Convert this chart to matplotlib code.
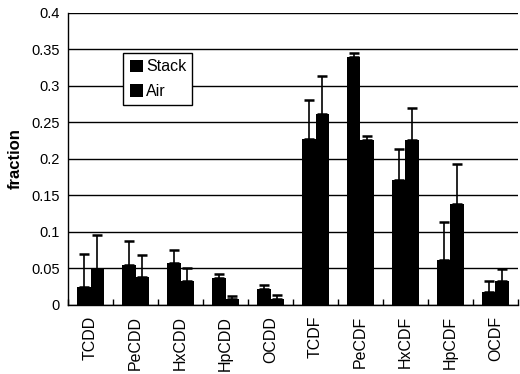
import matplotlib
matplotlib.use("Agg")
import matplotlib.pyplot as plt
import numpy as np

categories = ["TCDD", "PeCDD", "HxCDD", "HpCDD", "OCDD",
              "TCDF", "PeCDF", "HxCDF", "HpCDF", "OCDF"]
stack = [0.024, 0.055, 0.057, 0.037, 0.022, 0.227, 0.339, 0.171, 0.061, 0.018]
stack_err = [0.046, 0.032, 0.018, 0.005, 0.005, 0.054, 0.006, 0.042, 0.053, 0.014]
air = [0.049, 0.038, 0.032, 0.008, 0.008, 0.261, 0.226, 0.226, 0.138, 0.032]
air_err = [0.046, 0.030, 0.018, 0.004, 0.006, 0.052, 0.005, 0.043, 0.055, 0.017]
yticks = [0, 0.05, 0.1, 0.15, 0.2, 0.25, 0.3, 0.35, 0.4]
ytick_labels = ["0", "0.05", "0.1", "0.15", "0.2", "0.25", "0.3", "0.35", "0.4"]

plt.rcParams['font.family'] = ['Liberation Sans', 'DejaVu Sans']

fig = plt.figure(figsize=(5.2, 3.74), dpi=100)
ax = fig.add_axes([0.131, 0.185, 0.865, 0.781])

x = np.arange(len(categories))
w = 0.3
ekw = dict(ecolor='black', elinewidth=1.2, capsize=3.5, capthick=1.8)
zeros = [0] * len(categories)
ax.bar(x - w / 2, stack, w, color='black', label='Stack', zorder=3,
       yerr=[zeros, stack_err], error_kw=ekw)
ax.bar(x + w / 2, air, w, color='black', label='Air', zorder=3,
       yerr=[zeros, air_err], error_kw=ekw)

ax.set_xlim(-0.5, len(categories) - 0.5)
ax.set_ylim(0, 0.4)
ax.set_yticks(yticks)
ax.set_yticklabels(ytick_labels, fontsize=10.5)
ax.tick_params(axis='y', length=0, pad=6)
ax.set_xticks(x)
ax.set_xticklabels(categories, rotation=90, fontsize=11.5)
ax.tick_params(axis='x', length=0, pad=8)
ax.set_xticks(np.arange(len(categories) + 1) - 0.5, minor=True)
ax.tick_params(axis='x', which='minor', direction='in', length=4, width=1)
ax.grid(axis='y', color='black', linewidth=1, zorder=0)
ax.set_axisbelow(True)
for s in ['top', 'right']:
    ax.spines[s].set_visible(False)
ax.spines['left'].set_linewidth(1)
ax.spines['bottom'].set_linewidth(1)

ax.set_ylabel("fraction", fontsize=12, fontweight='bold', labelpad=6)

leg = ax.legend(loc='upper left', bbox_to_anchor=(0.123, 0.862), fontsize=11.5,
                frameon=True, fancybox=False, edgecolor='black', framealpha=1,
                handlelength=0.8, handleheight=0.8, handletextpad=0.2,
                borderpad=0.4, labelspacing=0.6, borderaxespad=0)
leg.get_frame().set_linewidth(1)

fig.savefig("out.png", dpi=100)
